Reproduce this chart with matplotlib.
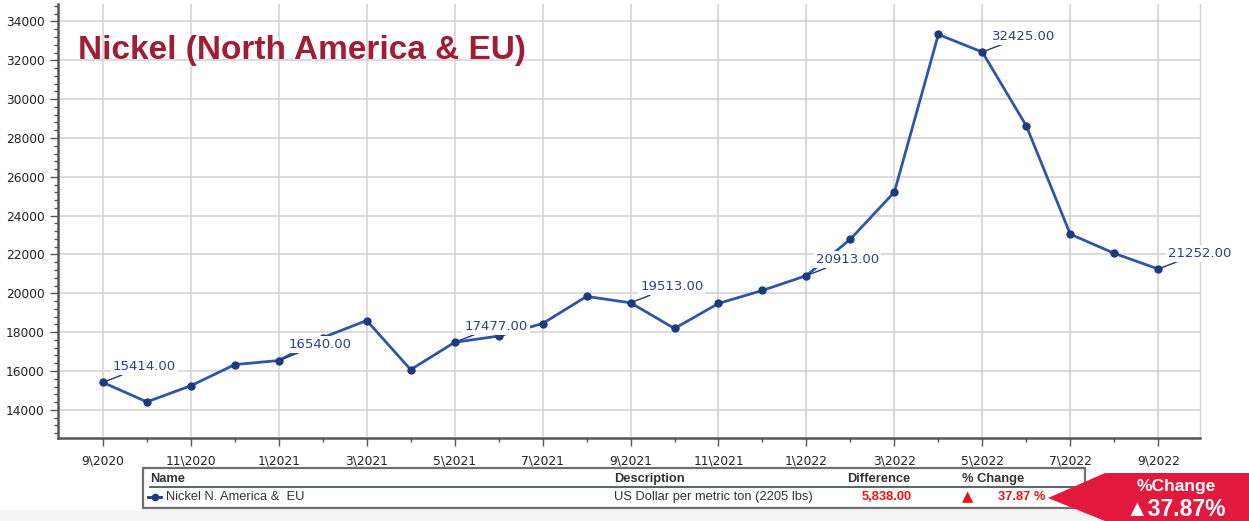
#!/usr/bin/env python3

import matplotlib.pyplot as plt
from matplotlib.patches import Polygon, Rectangle
from matplotlib.lines import Line2D
from matplotlib.ticker import MultipleLocator

# monthly nickel price, 9\2020 .. 9\2022 (US$ per metric ton)
MONTHS = [
    "9\\2020", "10\\2020", "11\\2020", "12\\2020", "1\\2021", "2\\2021",
    "3\\2021", "4\\2021", "5\\2021", "6\\2021", "7\\2021", "8\\2021",
    "9\\2021", "10\\2021", "11\\2021", "12\\2021", "1\\2022", "2\\2022",
    "3\\2022", "4\\2022", "5\\2022", "6\\2022", "7\\2022", "8\\2022",
    "9\\2022",
]
PRICES = [
    15414, 14410, 15240, 16330, 16540, 17720,
    18600, 16070, 17477, 17800, 18445, 19840,
    19513, 18190, 19480, 20150, 20913, 22790,
    25215, 33330, 32425, 28625, 23045, 22060,
    21252,
]
LABELLED = [0, 4, 8, 12, 16, 20, 24]

SERIES_NAME = "Nickel N. America &  EU"
DESCRIPTION = "US Dollar per metric ton (2205 lbs)"
DIFFERENCE = "5,838.00"
PCT_CHANGE = "37.87 %"

LINE_BLUE = "#2f56a6"
MARK_BLUE = "#1c3a7e"
LABEL_BLUE = "#2d4283"
BADGE_RED = "#e2183c"
TITLE_RED = "#a01d36"

W, H = 1249, 521


def fx(px):
    return px / W


def fy(py):
    return 1 - py / H


def main():
    fig = plt.figure(figsize=(W / 100, H / 100), dpi=100)
    fig.patch.set_facecolor("white")

    ax = fig.add_axes([fx(58), fy(438), fx(1200) - fx(58), fy(4) - fy(438)])
    x = list(range(len(PRICES)))
    ax.plot(x, PRICES, color=LINE_BLUE, linewidth=2.0, zorder=3)
    ax.plot(x, PRICES, linestyle="none", marker="o", markersize=5,
            color=MARK_BLUE, zorder=4)

    for i in LABELLED:
        ax.annotate(f"{PRICES[i]:.2f}", xy=(i, PRICES[i]), xytext=(7, 11.5),
                    textcoords="offset points", ha="left", va="center",
                    fontsize=9.5, color=LABEL_BLUE, zorder=6,
                    bbox=dict(boxstyle="square,pad=0.15", fc="white", ec="none"),
                    arrowprops=dict(arrowstyle="-", color=MARK_BLUE, lw=1.0,
                                    shrinkA=0, shrinkB=1))

    ax.set_xlim(-1.02, 24.95)
    ax.set_ylim(12550, 34900)
    ax.set_xticks(x[::2])
    ax.set_xticklabels(MONTHS[::2])
    ax.set_xticks(x[1::2], minor=True)
    ax.yaxis.set_major_locator(MultipleLocator(2000))
    ax.yaxis.set_minor_locator(MultipleLocator(400))

    ax.grid(True, which="major", color="#d2d2d2", linewidth=1.1)
    ax.set_axisbelow(True)
    ax.spines["right"].set_color("#d2d2d2")
    ax.spines["right"].set_linewidth(1.0)
    ax.spines["top"].set_visible(False)
    for side in ("left", "bottom"):
        ax.spines[side].set_color("#555555")
        ax.spines[side].set_linewidth(1.8)
    ax.tick_params(axis="both", which="major", length=6, width=1.0,
                   color="#555555", labelsize=8.8, labelcolor="#222222")
    ax.tick_params(axis="both", which="minor", length=3, width=1.0,
                   color="#555555")
    ax.tick_params(axis="x", pad=6)

    fig.text(fx(78), fy(51), "Nickel (North America & EU)", ha="left",
             va="center", fontsize=24, fontweight="bold", color=TITLE_RED,
             family="Liberation Sans")

    # legend / summary table
    fig.patches.append(Rectangle((0, 0), 1, fy(510), transform=fig.transFigure,
                                 fc="#f4f4f4", ec="none", zorder=0))
    fig.patches.append(Rectangle((fx(143), fy(508)), fx(1085) - fx(143),
                                 fy(468) - fy(508), transform=fig.transFigure,
                                 fc="white", ec="#707070", lw=1.6, zorder=1))
    fig.lines.append(Line2D([fx(150), fx(1080)], [fy(487), fy(487)],
                            transform=fig.transFigure, color="#3c4a48", lw=1.2))

    head = dict(fontsize=9.3, fontweight="bold", color="#333333", va="center",
                family="Liberation Sans")
    fig.text(fx(150), fy(479), "Name", ha="left", **head)
    fig.text(fx(614), fy(479), "Description", ha="left", **head)
    fig.text(fx(847), fy(479), "Difference", ha="left", **head)
    fig.text(fx(962), fy(479), "% Change", ha="left", **head)

    fig.lines.append(Line2D([fx(148), fx(161)], [fy(497), fy(497)],
                            transform=fig.transFigure, color=MARK_BLUE, lw=2.0))
    fig.lines.append(Line2D([fx(154.5)], [fy(497)], transform=fig.transFigure,
                            color=MARK_BLUE, marker="o", markersize=4.5))
    row = dict(fontsize=9.3, color="#333333", va="center",
               family="Liberation Sans")
    fig.text(fx(166), fy(497), SERIES_NAME, ha="left", **row)
    fig.text(fx(614), fy(497), DESCRIPTION, ha="left", **row)
    fig.text(fx(912), fy(497), DIFFERENCE, ha="right", fontsize=9.3,
             fontweight="bold", color="#ee1111", va="center",
             family="Liberation Sans")
    fig.text(fx(968), fy(497), "\u25b2", ha="center", fontsize=10.5,
             color="#ee1111", va="center", family="DejaVu Sans")
    fig.text(fx(1045), fy(497), PCT_CHANGE, ha="right", fontsize=9.3,
             fontweight="bold", color="#ee1111", va="center",
             family="Liberation Sans")

    # red %Change badge
    badge = [(1048, 498), (1105, 473), (1249, 473), (1249, 521), (1105, 521)]
    fig.patches.append(Polygon([(fx(a), fy(b)) for a, b in badge], closed=True,
                               transform=fig.transFigure, fc=BADGE_RED,
                               ec="none", zorder=2))
    fig.text(fx(1176), fy(487), "%Change", ha="center", va="center",
             fontsize=12.5, fontweight="bold", color="white",
             family="Liberation Sans", zorder=3)
    fig.text(fx(1176), fy(509), "\u25b237.87%", ha="center", va="center",
             fontsize=16.5, fontweight="bold", color="white",
             family=["Liberation Sans", "DejaVu Sans"], zorder=3)

    fig.savefig("out.png", dpi=100)


if __name__ == "__main__":
    main()
